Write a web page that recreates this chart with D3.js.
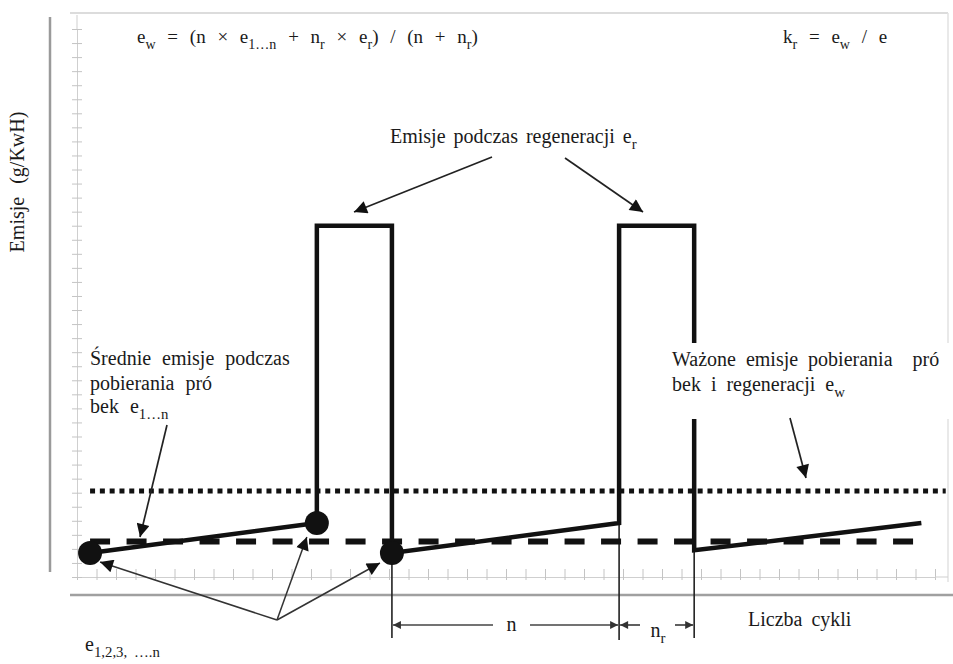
<!DOCTYPE html>
<html>
<head>
<meta charset="utf-8">
<script src="https://cdn.jsdelivr.net/npm/d3@7"></script>
<style>
  body { margin: 0; background: #fff; }
  svg { display: block; }
  text { font-family: "Liberation Serif", "DejaVu Serif", serif; fill: #1a1a1a; white-space: pre; }
</style>
</head>
<body>
<svg id="chart" width="953" height="664"></svg>
<script>
// Diagram units: x = test cycle number, y = emission level
const cycleTicks = d3.range(0, 45);
const emissionTicks = d3.range(0, 40);

// individual test results e1, e2 ... en (marked with dots)
const sampleDots = [[0.67, 1.71], [12.3, 3.84], [16.15, 1.71]];

// emission trace: rising between regenerations, plateau e_r during regeneration
const emissionTrace = [
  [0.67, 1.71], [12.3, 3.84], [12.3, 25], [16.15, 25], [16.15, 1.71],
  [27.8, 3.84], [27.8, 25], [31.65, 25], [31.65, 1.9], [43.3, 3.84]
];

const meanLevel = 2.53;      // e1...n  (dashed)
const weightedLevel = 6.12;  // ew      (dotted)
const levelStart = 0.67;
const meanEnd = 43.1;
const weightedEnd = 44.55;

// cycle boundaries used for the n / nr dimension
const nStart = 16.15, nEnd = 27.8, nrEnd = 31.65;

const svg = d3.select("#chart");
const x = d3.scaleLinear().domain([0, 44]).range([77, 935]);
const y = d3.scaleLinear().domain([0, 39]).range([577, 29]);

// arrowheads
const defs = svg.append("defs");
defs.append("marker").attr("id", "head")
  .attr("viewBox", "0 0 10 10").attr("refX", 10).attr("refY", 5)
  .attr("markerWidth", 16).attr("markerHeight", 13)
  .attr("markerUnits", "userSpaceOnUse").attr("orient", "auto")
  .append("path").attr("d", "M0,0L10,5L0,10z").attr("fill", "#111");
defs.append("marker").attr("id", "dimHead")
  .attr("viewBox", "0 0 10 10").attr("refX", 10).attr("refY", 5)
  .attr("markerWidth", 9).attr("markerHeight", 8)
  .attr("markerUnits", "userSpaceOnUse").attr("orient", "auto")
  .append("path").attr("d", "M0,0L10,5L0,10z").attr("fill", "#333");

// frame lines
svg.append("line").attr("x1", 70).attr("x2", 948).attr("y1", 13).attr("y2", 13)
  .attr("stroke", "#dcdcdc").attr("stroke-width", 2);
svg.append("line").attr("x1", 948).attr("x2", 948).attr("y1", 13).attr("y2", 582)
  .attr("stroke", "#e2e2e2").attr("stroke-width", 1.5);
svg.append("line").attr("x1", 50).attr("x2", 50).attr("y1", 17).attr("y2", 572)
  .attr("stroke", "#9a9a9a").attr("stroke-width", 2.5);
svg.append("line").attr("x1", 70).attr("x2", 953).attr("y1", 595).attr("y2", 595)
  .attr("stroke", "#a0a0a0").attr("stroke-width", 2.5);

// tick axes
const xAxis = svg.append("g").attr("transform", `translate(0,${y(0)})`)
  .call(d3.axisTop(x).tickValues(cycleTicks).tickSize(8).tickSizeOuter(0).tickFormat(""));
xAxis.selectAll(".tick line").attr("y1", 3);
svg.append("line").attr("x1", x(44)).attr("x2", 948).attr("y1", y(0)).attr("y2", y(0))
  .attr("stroke", "#cfcfcf");
const yAxis = svg.append("g").attr("transform", `translate(${x(0)},0)`)
  .call(d3.axisRight(y).tickValues(emissionTicks).tickSize(5).tickSizeOuter(0).tickFormat(""));
yAxis.selectAll(".tick line").attr("x1", -5);
svg.append("line").attr("x1", x(0)).attr("x2", x(0)).attr("y1", 15).attr("y2", y(39))
  .attr("stroke", "#cfcfcf");
svg.selectAll(".domain").attr("stroke", "#cfcfcf");
svg.selectAll(".tick line").attr("stroke", "#c4c4c4");

// extension lines for the dimension row
const dimY = 625;
[[nStart, 1.71, 638], [nEnd, 3.84, 640], [nrEnd, 1.9, 638]].forEach(([c, v, bottom]) => {
  svg.append("line").attr("x1", x(c)).attr("x2", x(c)).attr("y1", y(v)).attr("y2", bottom)
    .attr("stroke", "#222").attr("stroke-width", 1.6);
});

// weighted and mean levels
svg.append("line").attr("x1", x(levelStart)).attr("x2", x(weightedEnd))
  .attr("y1", y(weightedLevel)).attr("y2", y(weightedLevel))
  .attr("stroke", "#111").attr("stroke-width", 5).attr("stroke-dasharray", "5,4.8");
svg.append("line").attr("x1", x(levelStart)).attr("x2", x(meanEnd))
  .attr("y1", y(meanLevel)).attr("y2", y(meanLevel))
  .attr("stroke", "#111").attr("stroke-width", 6).attr("stroke-dasharray", "20,16.5");

// emission trace
svg.append("path").datum(emissionTrace)
  .attr("d", d3.line().x(d => x(d[0])).y(d => y(d[1])))
  .attr("fill", "none").attr("stroke", "#111").attr("stroke-width", 4.5)
  .attr("stroke-linejoin", "miter");

svg.selectAll("circle.sample").data(sampleDots).join("circle")
  .attr("class", "sample")
  .attr("cx", d => x(d[0])).attr("cy", d => y(d[1])).attr("r", 12)
  .attr("fill", "#111");

// rich text helper: parts are strings or {sub: "..."}
function richText(px, py, parts, size, anchor, spacing) {
  const t = svg.append("text").attr("x", px).attr("y", py)
    .attr("font-size", size).attr("text-anchor", anchor || "start")
    .attr("word-spacing", spacing == null ? 3 : spacing);
  let shift = 0;
  parts.forEach(p => {
    if (typeof p === "string") {
      t.append("tspan").attr("dy", -shift).text(p);
      shift = 0;
    } else {
      const s = Math.round(size * 0.3);
      t.append("tspan").attr("dy", s - shift).attr("font-size", size * 0.74).text(p.sub);
      shift = s;
    }
  });
  return t;
}

// formulas
richText(137, 43, ["e", {sub: "w"}, " = (n × e", {sub: "1…n"}, " + n", {sub: "r"}, " × e", {sub: "r"}, ") / (n + n", {sub: "r"}, ")"], 19, "start", 7);
richText(783, 43, ["k", {sub: "r"}, " = e", {sub: "w"}, " / e"], 19, "start", 7);

// regeneration label and arrows
richText(390, 143, ["Emisje podczas regeneracji e", {sub: "r"}], 20);
svg.append("line").attr("x1", 492).attr("y1", 157).attr("x2", 354).attr("y2", 212)
  .attr("stroke", "#222").attr("stroke-width", 1.7).attr("marker-end", "url(#head)");
svg.append("line").attr("x1", 565).attr("y1", 158).attr("x2", 643).attr("y2", 212)
  .attr("stroke", "#222").attr("stroke-width", 1.7).attr("marker-end", "url(#head)");

// mean-emission label
richText(90, 365, ["Średnie emisje podczas"], 20, "start", 6);
richText(90, 390, ["pobierania pró"], 20, "start", 6);
richText(90, 413, ["bek e", {sub: "1…n"}], 20, "start", 6);
svg.append("line").attr("x1", 167).attr("y1", 425).attr("x2", 140).attr("y2", 537)
  .attr("stroke", "#222").attr("stroke-width", 1.7).attr("marker-end", "url(#head)");

// weighted-emission label (on a white ground that interrupts the trace)
svg.append("rect").attr("x", 668).attr("y", 343).attr("width", 285).attr("height", 76).attr("fill", "#fff");
richText(672, 366, ["Ważone emisje pobierania  pró"], 20, "start", 5);
richText(672, 391, ["bek i regeneracji e", {sub: "w"}], 20, "start", 5);
svg.append("line").attr("x1", 790).attr("y1", 418).attr("x2", 806).attr("y2", 478)
  .attr("stroke", "#222").attr("stroke-width", 1.7).attr("marker-end", "url(#head)");

// arrows to the individual results
const origin = [277, 620];
const tipOffsets = [[10, 9], [-10, 14], [-12, 10]];
sampleDots.forEach((d, i) => {
  svg.append("line").attr("x1", origin[0]).attr("y1", origin[1])
    .attr("x2", x(d[0]) + tipOffsets[i][0]).attr("y2", y(d[1]) + tipOffsets[i][1])
    .attr("stroke", "#333").attr("stroke-width", 1.5).attr("marker-end", "url(#head)");
});
richText(85, 651, ["e", {sub: "1,2,3, ….n"}], 20);

// dimension row n / nr
const gapL = 493, gapR = 530;
svg.append("line").attr("x1", gapL).attr("y1", dimY).attr("x2", x(nStart) + 1).attr("y2", dimY)
  .attr("stroke", "#444").attr("stroke-width", 1.7).attr("marker-end", "url(#dimHead)");
svg.append("line").attr("x1", gapR).attr("y1", dimY).attr("x2", x(nEnd) - 1).attr("y2", dimY)
  .attr("stroke", "#444").attr("stroke-width", 1.7).attr("marker-end", "url(#dimHead)");
svg.append("line").attr("x1", 640).attr("y1", dimY).attr("x2", x(nEnd) + 1).attr("y2", dimY)
  .attr("stroke", "#444").attr("stroke-width", 1.7).attr("marker-end", "url(#dimHead)");
svg.append("line").attr("x1", 675).attr("y1", dimY).attr("x2", x(nrEnd) - 1).attr("y2", dimY)
  .attr("stroke", "#444").attr("stroke-width", 1.7).attr("marker-end", "url(#dimHead)");
richText((gapL + gapR) / 2, 631, ["n"], 20, "middle");
richText(658, 637, ["n", {sub: "r"}], 20, "middle");

// axis titles
richText(748, 626, ["Liczba cykli"], 20, "start", 4);
svg.append("text").attr("transform", "translate(24,182) rotate(-90)")
  .attr("text-anchor", "middle").attr("font-size", 20).attr("word-spacing", 8)
  .text("Emisje (g/KwH)");
</script>
</body>
</html>
